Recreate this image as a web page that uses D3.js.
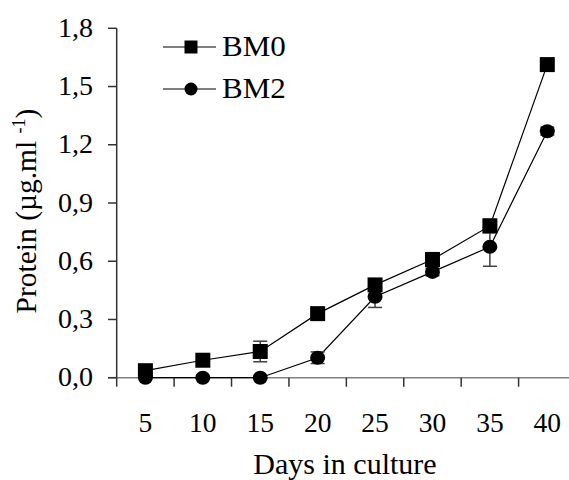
<!DOCTYPE html>
<html><head><meta charset="utf-8">
<script src="https://cdn.jsdelivr.net/npm/d3@7"></script>
<style>
body{margin:0;background:#fff;}
svg text{font-family:"Liberation Serif",serif;fill:#000;}
</style></head>
<body><svg id="c" width="569" height="480" font-family="Liberation Serif"></svg>
<script>
const days = ["5","10","15","20","25","30","35","40"];
const bm0 = [0.036, 0.09, 0.135, 0.33, 0.478, 0.609, 0.782, 1.613];
const bm0Err = [0.025, 0.015, 0.053, 0.02, 0.03, 0.035, 0.035, 0.02];
const bm2 = [0.0, 0.0, 0.0, 0.103, 0.417, 0.545, 0.674, 1.27];
const bm2Err = [0.0, 0.0, 0.0, 0.03, 0.055, 0.02, 0.10, 0.02];
const yTicks = [0, 0.3, 0.6, 0.9, 1.2, 1.5, 1.8];
const seriesNames = ["BM0", "BM2"];

const svg = d3.select("#c");
const x = d3.scaleBand().domain(days).range([116.7, 576]).padding(0);
const y = d3.scaleLinear().domain([0, 1.8]).range([377.7, 28.3]);
const cx = d => x(d) + x.bandwidth()/2;
const fmt = v => d3.format(".1f")(v).replace(".", ",");

// x axis line
svg.append("line").attr("x1",108).attr("x2",569).attr("y1",y(0)).attr("y2",y(0))
  .attr("stroke","#808080").attr("stroke-width",1.5);
// x ticks at band boundaries
svg.selectAll(".xt").data(days).enter().append("line")
  .attr("x1",d=>x(d)).attr("x2",d=>x(d)).attr("y1",y(0)).attr("y2",y(0)+9)
  .attr("stroke","#333").attr("stroke-width",1.5);
svg.selectAll(".xl").data(days).enter().append("text")
  .attr("x",d=>cx(d)).attr("y",431.5).attr("text-anchor","middle")
  .attr("font-size",27.5).text(d=>d);

// y axis
svg.append("line").attr("x1",116.7).attr("x2",116.7).attr("y1",y(1.8)).attr("y2",y(0))
  .attr("stroke","#333").attr("stroke-width",1.5);
svg.selectAll(".yt").data(yTicks).enter().append("line")
  .attr("x1",108).attr("x2",116.7).attr("y1",d=>y(d)).attr("y2",d=>y(d))
  .attr("stroke","#333").attr("stroke-width",1.5);
svg.selectAll(".yl").data(yTicks).enter().append("text")
  .attr("x",93).attr("y",d=>y(d)+8.5).attr("text-anchor","end")
  .attr("font-size",28).text(fmt);

// axis titles
svg.append("text").attr("x",345).attr("y",474).attr("text-anchor","middle")
  .attr("font-size",30).text("Days in culture");
const yl = svg.append("text").attr("transform","translate(36,211) rotate(-90)")
  .attr("text-anchor","middle").attr("font-size",29.5);
yl.append("tspan").text("Protein (\u00b5g.ml ");
yl.append("tspan").attr("font-size",18).attr("dy",-11).text("-1");
yl.append("tspan").attr("dy",11).text(")");

const line = d3.line().x((d,i)=>cx(days[i])).y(d=>y(d));
[bm0, bm2].forEach(s=>{
  svg.append("path").datum(s).attr("d",line).attr("fill","none")
    .attr("stroke","#000").attr("stroke-width",1.2);
});

// error bars
[[bm0,bm0Err],[bm2,bm2Err]].forEach(([s,e])=>{
  s.forEach((v,i)=>{
    if(!e[i]) return;
    const xx = cx(days[i]);
    const g = svg.append("g").attr("stroke","#404040").attr("stroke-width",1.5);
    g.append("line").attr("x1",xx).attr("x2",xx).attr("y1",y(v-e[i])).attr("y2",y(v+e[i]));
    [v-e[i], v+e[i]].forEach(t=>g.append("line").attr("x1",xx-7).attr("x2",xx+7).attr("y1",y(t)).attr("y2",y(t)));
  });
});

// markers
svg.selectAll(".sq").data(bm0).enter().append("rect")
  .attr("x",(d,i)=>cx(days[i])-7.5).attr("y",d=>y(d)-7.5)
  .attr("width",15).attr("height",15).attr("fill","#000");
svg.selectAll(".ci").data(bm2).enter().append("ellipse")
  .attr("cx",(d,i)=>cx(days[i])).attr("cy",d=>y(d))
  .attr("rx",7.5).attr("ry",7).attr("fill","#000");

// legend
const leg = [{name:seriesNames[0], yy:47},{name:seriesNames[1], yy:89}];
leg.forEach((l,i)=>{
  svg.append("line").attr("x1",163).attr("x2",216).attr("y1",l.yy).attr("y2",l.yy)
    .attr("stroke","#000").attr("stroke-width",1.2);
  if(i===0) svg.append("rect").attr("x",191-6.5).attr("y",l.yy-6.5).attr("width",13).attr("height",13).attr("fill","#000");
  else svg.append("circle").attr("cx",191).attr("cy",l.yy).attr("r",6.5).attr("fill","#000");
  svg.append("text").attr("transform",`translate(222,${l.yy+9}) scale(1.07,1)`)
    .attr("font-size",29).text(l.name);
});
</script></body></html>
